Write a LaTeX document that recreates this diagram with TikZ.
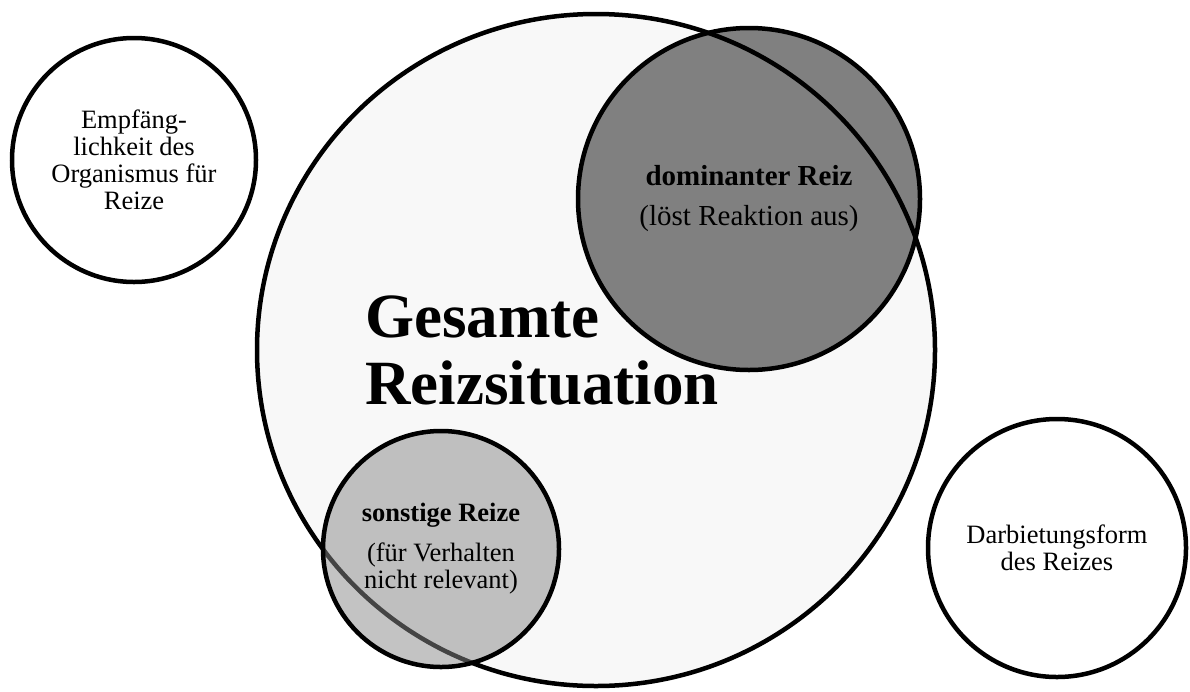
\documentclass[tikz,border=0pt]{standalone}
\usepackage{fontspec}
\setmainfont{Liberation Serif}
\definecolor{bigfill}{HTML}{F8F8F8}
\definecolor{darkfill}{HTML}{808080}
\definecolor{smallfill}{HTML}{888888}
\begin{document}
\begin{tikzpicture}[x=1pt,y=-1pt,
  ring/.style={circle, draw=black, line width=4.5pt, inner sep=0pt, align=center},
  normtext/.style={font=\fontsize{26.5}{27}\selectfont},
  domtext/.style={font=\fontsize{29}{40}\selectfont},
  bigtext/.style={font=\fontsize{63}{67}\selectfont\bfseries, align=left, inner sep=0pt}]
\useasboundingbox (0,0) rectangle (1190,691);
\coordinate (bigc) at (596,350);
\fill[bigfill] (bigc) ellipse [x radius=339, y radius=336];
\node[ring, fill=darkfill, minimum size=342pt, domtext] (dom) at (749,199)
  {\textbf{dominanter Reiz}\\(löst Reaktion aus)};
\draw[line width=4.5pt] (bigc) ellipse [x radius=339, y radius=336];
\node[ring, fill=smallfill, fill opacity=0.5, text opacity=1, draw opacity=1, minimum size=236pt, normtext] (sonst) at (441,549)
  {\textbf{sonstige Reize}\\[13pt](für Verhalten\\nicht relevant)};
\node[ring, minimum size=244pt, normtext] (empf) at (134,160)
  {Empfäng-\\lichkeit des\\Organismus für\\Reize};
\node[ring, minimum size=258pt, normtext] (darb) at (1057,548)
  {Darbietungsform\\des Reizes};
\node[bigtext, anchor=west] (ges) at (365,350.5) {Gesamte\\Reizsituation};
\end{tikzpicture}
\end{document}
